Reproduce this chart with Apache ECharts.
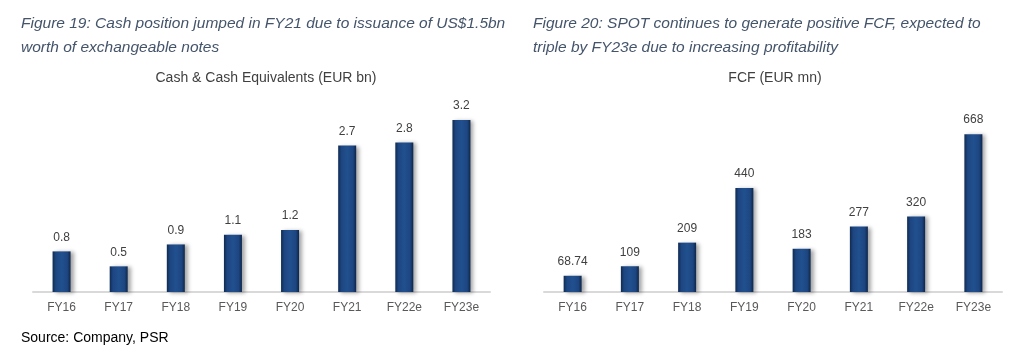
<!DOCTYPE html>
<html>
<head>
<meta charset="utf-8">
<script src="https://cdn.jsdelivr.net/npm/echarts@6/dist/echarts.min.js"></script>
<style>
html,body{margin:0;padding:0;background:#fff;}
#c{width:1024px;height:358px;}
</style>
</head>
<body>
<div id="c"></div>
<script>
const categories = ['FY16','FY17','FY18','FY19','FY20','FY21','FY22e','FY23e'];
const cashValues = [0.76, 0.48, 0.89, 1.07, 1.16, 2.74, 2.80, 3.22];
const fcfValues = [68.74, 109, 209, 440, 183, 277, 320, 668];

const titleLeft = 'Figure 19: Cash position jumped in FY21 due to issuance of US$1.5bn\nworth of exchangeable notes';
const titleRight = 'Figure 20: SPOT continues to generate positive FCF, expected to\ntriple by FY23e due to increasing profitability';
const subLeft = 'Cash & Cash Equivalents (EUR bn)';
const subRight = 'FCF (EUR mn)';
const sourceText = 'Source: Company, PSR';

const chart = echarts.init(document.getElementById('c'), null, {renderer:'canvas'});
const barColor = new echarts.graphic.LinearGradient(0,0,1,0,[
  {offset:0,color:'#0f2a50'},
  {offset:0.18,color:'#1d4681'},
  {offset:0.5,color:'#21508f'},
  {offset:0.82,color:'#1d4681'},
  {offset:1,color:'#0e264a'}
]);
const figFont = {fontFamily:'Liberation Sans', fontStyle:'italic', fontWeight:'normal', fontSize:15.5, color:'#44546A', lineHeight:24};
const subFont = {fontFamily:'Liberation Sans', fontSize:14, color:'#404040', fontWeight:'normal'};
const axisCommon = {
  type:'category',
  axisLine:{lineStyle:{color:'#d9d9d9', width:2}},
  axisTick:{show:false},
  axisLabel:{color:'#595959', fontFamily:'Liberation Sans', fontSize:12, margin:10}
};
const seriesCommon = {
  type:'bar',
  barWidth:18,
  itemStyle:{color:barColor, shadowColor:'rgba(0,0,0,0.35)', shadowBlur:4, shadowOffsetX:3, shadowOffsetY:1},
  label:{show:true, position:'top', distance:8, color:'#404040', fontFamily:'Liberation Sans', fontSize:12}
};
chart.setOption({
  animation:false,
  title:[
    {text:titleLeft, left:16, top:7, textStyle:figFont},
    {text:titleRight, left:528, top:7, textStyle:figFont},
    {text:subLeft, left:261, top:66, textAlign:'center', textStyle:subFont},
    {text:subRight, left:770, top:66, textAlign:'center', textStyle:subFont},
    {text:sourceText, left:16, top:326, textStyle:{fontFamily:'Liberation Sans', fontSize:14, color:'#000', fontWeight:'normal'}}
  ],
  grid:[
    {left:33, top:105, width:457, height:187},
    {left:544, top:103, width:458, height:189}
  ],
  xAxis:[
    Object.assign({gridIndex:0, data:categories}, axisCommon),
    Object.assign({gridIndex:1, data:categories}, axisCommon)
  ],
  yAxis:[
    {gridIndex:0, type:'value', min:0, max:3.5, show:false, splitLine:{show:false}},
    {gridIndex:1, type:'value', min:0, max:800, show:false, splitLine:{show:false}}
  ],
  series:[
    Object.assign({}, seriesCommon, {xAxisIndex:0, yAxisIndex:0, data:cashValues,
      label:Object.assign({}, seriesCommon.label, {formatter:p=>p.value.toFixed(1)})}),
    Object.assign({}, seriesCommon, {xAxisIndex:1, yAxisIndex:1, data:fcfValues,
      label:Object.assign({}, seriesCommon.label, {formatter:p=>String(p.value)})})
  ]
});
</script>
</body>
</html>
